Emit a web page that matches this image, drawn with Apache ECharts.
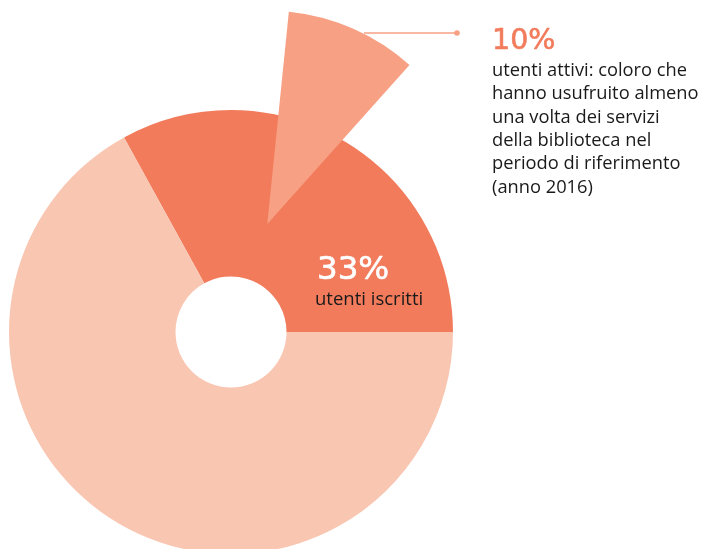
<!DOCTYPE html>
<html>
<head>
<meta charset="utf-8">
<script src="https://cdn.jsdelivr.net/npm/echarts@6/dist/echarts.min.js"></script>
<style>
html,body{margin:0;padding:0;background:#fff;}
#chart{width:704px;height:549px;}
</style>
</head>
<body>
<div id="chart"></div>
<script>
// ---- data ----
const categories = ['utenti iscritti', 'non iscritti'];
const shares = [33, 67];
const activeCategories = ['utenti attivi', 'altri'];
const activeShares = [10, 90];
const pctLabels = ['33%', '10%'];
const registeredCaption = 'utenti iscritti';
const activeDescription = [
  'utenti attivi: coloro che',
  'hanno usufruito almeno',
  'una volta dei servizi',
  'della biblioteca nel',
  'periodo di riferimento',
  '(anno 2016)'
];

// ---- styles ----
const DARK = '#F27B5C';
const LIGHT = '#F9C6B2';
const WEDGE = '#F7A083';
const TEXT = '#1a1a1a';

const chart = echarts.init(document.getElementById('chart'), null, {renderer: 'canvas'});

const graphics = [
  { type: 'line', shape: {x1: 364, y1: 33, x2: 457, y2: 33},
    style: {stroke: WEDGE, lineWidth: 1.5}, z: 10 },
  { type: 'circle', shape: {cx: 457, cy: 33, r: 2.8},
    style: {fill: WEDGE}, z: 10 },
  { type: 'text', x: 492, y: 42, z: 10,
    style: {text: pctLabels[1], fill: DARK, font: '28.5px "DejaVu Sans"', textAlign: 'left', textVerticalAlign: 'middle',
            stroke: DARK, lineWidth: 0.6} },
  { type: 'text', x: 317, y: 270.5, z: 10,
    style: {text: pctLabels[0], fill: '#ffffff', font: '32.5px "DejaVu Sans"', textAlign: 'left', textVerticalAlign: 'middle',
            stroke: '#ffffff', lineWidth: 0.6} },
  { type: 'text', x: 315, y: 300, z: 10,
    style: {text: registeredCaption, fill: TEXT, font: '18.5px "Open Sans"', textAlign: 'left', textVerticalAlign: 'middle'} }
];
activeDescription.forEach(function (line, i) {
  graphics.push({ type: 'text', x: 492, y: 70.5 + i * 23.4, z: 10,
    style: {text: line, fill: TEXT, font: '18.3px "Open Sans"', textAlign: 'left', textVerticalAlign: 'middle'} });
});

chart.setOption({
  animation: false,
  backgroundColor: '#ffffff',
  series: [
    {
      type: 'pie',
      center: [231, 332],
      radius: [55.5, 222],
      startAngle: 0,
      clockwise: false,
      silent: true,
      label: {show: false},
      labelLine: {show: false},
      emphasis: {disabled: true},
      itemStyle: {borderWidth: 0},
      data: categories.map(function (c, i) {
        return {name: c, value: shares[i], itemStyle: {color: i === 0 ? DARK : LIGHT}};
      })
    },
    {
      type: 'pie',
      center: [267.3, 224],
      radius: [0, 213.3],
      startAngle: 84.2,
      clockwise: true,
      silent: true,
      label: {show: false},
      labelLine: {show: false},
      emphasis: {disabled: true},
      itemStyle: {borderWidth: 0},
      data: activeCategories.map(function (c, i) {
        return {name: c, value: activeShares[i], itemStyle: {color: i === 0 ? WEDGE : 'rgba(0,0,0,0)'}};
      })
    }
  ],
  graphic: graphics
});
</script>
</body>
</html>
